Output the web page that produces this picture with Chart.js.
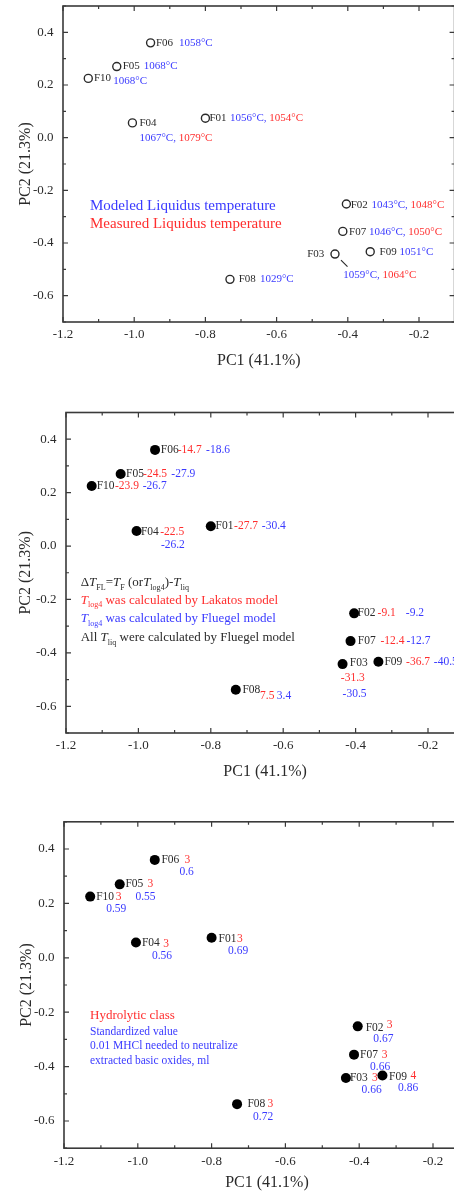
<html lang="en">
<head>
  <meta charset="UTF-8" />
  <title>PCA scores of glass samples</title>
  <script src="https://cdn.jsdelivr.net/npm/chart.js"></script>
  <style>
    body {
      margin: 0;
      background: #ffffff;
      width: 454px;
      height: 1193px;
      overflow: hidden;
      position: relative;
    }

    canvas {
      position: absolute;
      left: 0;
    }
  </style>
</head>
<body>
  <canvas id="chart-liquidus" width="480" height="400" style="top:0px"></canvas>
  <canvas id="chart-delta" width="480" height="400" style="top:400px"></canvas>
  <canvas id="chart-hydro" width="480" height="400" style="top:800px"></canvas>

  <script>
    // sample scores on the first two principal components
    const sampleIds = ['F01', 'F02', 'F03', 'F04', 'F05', 'F06', 'F07', 'F08', 'F09', 'F10'];
    const pc1Scores = [-0.800, -0.404, -0.436, -1.005, -1.049, -0.954, -0.414, -0.731, -0.337, -1.129];
    const pc2Scores = [0.074, -0.252, -0.442, 0.056, 0.270, 0.360, -0.356, -0.538, -0.433, 0.225];

    // liquidus temperature, degC (null = not measured)
    const liqModeled = [1056, 1043, 1059, 1067, 1068, 1058, 1046, 1029, 1051, 1068];
    const liqMeasured = [1054, 1048, 1064, 1079, null, null, 1050, null, null, null];

    // working range minus liquidus
    const dtLakatos = [-27.7, -9.1, -31.3, -22.5, -24.5, -14.7, -12.4, 7.5, -36.7, -23.9];
    const dtFluegel = [-30.4, -9.2, -30.5, -26.2, -27.9, -18.6, -12.7, 3.4, -40.5, -26.7];

    // hydrolytic resistance
    const hydroClass = [3, 3, 3, 3, 3, 3, 3, 3, 4, 3];
    const hclNeeded = [0.69, 0.67, 0.66, 0.56, 0.55, 0.6, 0.66, 0.72, 0.86, 0.59];

    const xTickValues = [-1.2, -1.0, -0.8, -0.6, -0.4, -0.2];
    const yTickValues = [-0.6, -0.4, -0.2, 0.0, 0.2, 0.4];
    const xRange = [-1.2, -0.1];
    const yRange = [-0.7, 0.5];

    const SERIF = '"Liberation Serif", "Times New Roman", serif';
    const INK = '#2a2a2a';
    const BLUE = '#3a3aff';
    const RED = '#ff2e2e';
    const AXIS = '#3a3a3a';

    // frame on all four sides with inward major/minor ticks
    const framePlugin = {
      id: 'frame',
      beforeDatasetsDraw(chart) {
        const { ctx, chartArea: a, scales: { x, y } } = chart;
        ctx.save();
        ctx.strokeStyle = AXIS;
        ctx.lineWidth = 1.6;
        ctx.strokeRect(a.left, a.top, a.right - a.left, a.bottom - a.top);
        ctx.lineWidth = 1.2;

        const withMinors = (majors, lo, hi) => {
          const step = majors[1] - majors[0];
          const out = majors.map(v => ({ v, len: 5 }));
          for (let v = majors[0] - step / 2; v <= hi + 1e-9; v += step) {
            if (v >= lo - 1e-9) out.push({ v, len: 3 });
          }
          return out;
        };

        ctx.beginPath();
        withMinors(xTickValues, xRange[0], xRange[1]).forEach(t => {
          const px = x.getPixelForValue(t.v);
          ctx.moveTo(px, a.bottom); ctx.lineTo(px, a.bottom - t.len);
          ctx.moveTo(px, a.top); ctx.lineTo(px, a.top + t.len);
        });
        withMinors(yTickValues, yRange[0], yRange[1]).forEach(t => {
          const py = y.getPixelForValue(t.v);
          ctx.moveTo(a.left, py); ctx.lineTo(a.left + t.len, py);
          ctx.moveTo(a.right, py); ctx.lineTo(a.right - t.len, py);
        });
        ctx.stroke();
        ctx.restore();
      }
    };

    // text pieces next to each point, plus the explanatory block
    const notesPlugin = {
      id: 'notes',
      afterDatasetsDraw(chart) {
        const cfg = chart.options.plugins.notes;
        const { ctx, chartArea: a } = chart;
        const pts = chart.getDatasetMeta(0).data;
        ctx.save();
        ctx.textBaseline = 'middle';
        ctx.font = cfg.size + 'px ' + SERIF;

        cfg.points.forEach((segs, i) => {
          const p = pts[i];
          let cursor = p.x;
          segs.forEach(s => {
            const sx = s.dx !== undefined ? p.x + s.dx : cursor;
            const sy = p.y + (s.dy || 0);
            ctx.fillStyle = s.color;
            ctx.textAlign = s.align || 'left';
            ctx.fillText(s.text, sx, sy);
            cursor = sx + ctx.measureText(s.text).width;
          });
        });

        (cfg.leaders || []).forEach(l => {
          const p = pts[l.index];
          ctx.strokeStyle = INK;
          ctx.lineWidth = 1.2;
          ctx.beginPath();
          ctx.moveTo(p.x + l.from[0], p.y + l.from[1]);
          ctx.lineTo(p.x + l.to[0], p.y + l.to[1]);
          ctx.stroke();
        });

        ctx.textBaseline = 'alphabetic';
        ctx.textAlign = 'left';
        (cfg.block || []).forEach(line => {
          let cx = a.left + line.dx;
          const base = a.top + line.dy + line.size * 0.33;
          line.parts.forEach(part => {
            const size = part.sub ? line.size * 0.62 : line.size;
            ctx.font = (part.it ? 'italic ' : '') + size + 'px ' + SERIF;
            ctx.fillStyle = line.color;
            ctx.fillText(part.t, cx, base + (part.sub ? line.size * 0.28 : 0));
            cx += ctx.measureText(part.t).width;
          });
        });
        ctx.restore();
      }
    };

    function makeChart(id, box, style, notes) {
      const canvas = document.getElementById(id);
      const W = canvas.width, H = canvas.height;
      const xAxisH = 50;
      return new Chart(canvas, {
        type: 'scatter',
        data: {
          datasets: [{
            data: pc1Scores.map((v, i) => ({ x: v, y: pc2Scores[i] })),
            pointRadius: style.radius,
            pointHoverRadius: style.radius,
            backgroundColor: style.fill,
            borderColor: INK,
            borderWidth: style.border
          }]
        },
        options: {
          responsive: false,
          animation: false,
          events: [],
          layout: {
            padding: { left: 0, top: box.top, right: W - box.right, bottom: H - box.bottom - xAxisH }
          },
          plugins: {
            legend: { display: false },
            tooltip: { enabled: false },
            notes: notes
          },
          scales: {
            x: {
              type: 'linear',
              min: xRange[0],
              max: xRange[1],
              afterBuildTicks: s => { s.ticks = xTickValues.map(v => ({ value: v })); },
              afterFit: s => { s.height = xAxisH; s.paddingLeft = 0; s.paddingRight = 0; },
              grid: { display: false, drawTicks: false },
              border: { display: false },
              ticks: {
                color: INK,
                padding: box.xLabelPad,
                font: { family: SERIF, size: 13 },
                callback: v => v.toFixed(1)
              },
              title: {
                display: true,
                text: 'PC1 (41.1%)',
                color: INK,
                font: { family: SERIF, size: 16 },
                padding: { top: 0, bottom: xAxisH - box.xTitleGap - 9.6 }
              }
            },
            y: {
              type: 'linear',
              min: yRange[0],
              max: yRange[1],
              afterBuildTicks: s => { s.ticks = yTickValues.map(v => ({ value: v })); },
              afterFit: s => { s.width = box.left; s.paddingTop = 0; s.paddingBottom = 0; },
              grid: { display: false, drawTicks: false },
              border: { display: false },
              ticks: {
                color: INK,
                padding: 9.5,
                font: { family: SERIF, size: 13 },
                callback: v => v.toFixed(1)
              },
              title: {
                display: true,
                text: 'PC2 (21.3%)',
                color: INK,
                font: { family: SERIF, size: 16 },
                padding: { top: box.yTitleX - 9.6, bottom: 0 }
              }
            }
          }
        },
        plugins: [framePlugin, notesPlugin]
      });
    }

    const idx = id => sampleIds.indexOf(id);

    // --- liquidus temperature panel ---
    const liqPlace = {
      F01: { name: [4, 0], val: [24.7, 0] },
      F02: { name: [4.3, 1.3], val: [25, 1.3] },
      F03: { name: [-10.7, 0], val: [8.3, 21], right: true },
      F04: { name: [7, 0], val: [7, 15.6] },
      F05: { name: [6, 0], val: [27, 0] },
      F06: { name: [5.3, 0], val: [28.3, 0] },
      F07: { name: [6.3, 0.5], val: [26.3, 0.5] },
      F08: { name: [8.7, 0], val: [30, 0] },
      F09: { name: [9.3, 0], val: [29.3, 0] },
      F10: { name: [5.7, 0], val: [25, 3] }
    };
    const liqNotes = sampleIds.map((id, i) => {
      const pl = liqPlace[id];
      const segs = [
        { text: id, color: INK, dx: pl.name[0], dy: pl.name[1], align: pl.right ? 'right' : 'left' },
        { text: liqModeled[i] + '\u00B0C' + (liqMeasured[i] !== null ? ', ' : ''), color: BLUE, dx: pl.val[0], dy: pl.val[1] }
      ];
      if (liqMeasured[i] !== null) segs.push({ text: liqMeasured[i] + '\u00B0C', color: RED, dy: pl.val[1] });
      return segs;
    });

    makeChart('chart-liquidus',
      { left: 63, top: 6, right: 454.6, bottom: 322, xLabelPad: 5.2, xTitleGap: 39, yTitleX: 26 },
      { radius: 4, fill: 'rgba(255,255,255,0)', border: 1.4 },
      {
        size: 11,
        points: liqNotes,
        leaders: [{ index: idx('F03'), from: [6, 6], to: [12.5, 12.5] }],
        block: [
          { dx: 27, dy: 198.7, size: 15, color: BLUE, parts: [{ t: 'Modeled Liquidus temperature' }] },
          { dx: 27, dy: 216.7, size: 15, color: RED, parts: [{ t: 'Measured Liquidus temperature' }] }
        ]
      });

    // --- temperature difference panel ---
    const dtPlace = {
      F01: { name: [4.7, 0], red: [23.3, 0], blue: [51, 0] },
      F02: { name: [3.4, 0], red: [23.4, 0], blue: [51.7, 0] },
      F03: { name: [7.3, -1], red: [-1.7, 14], blue: [0, 29.4] },
      F04: { name: [4.3, 1.3], red: [23.6, 0.5], blue: [24.3, 14.3] },
      F05: { name: [5.4, 0], red: [22.4, 0], blue: [50.7, 0] },
      F06: { name: [5.7, 0], red: [22.7, 0], blue: [51, 0] },
      F07: { name: [7.3, 0], red: [30, 0], blue: [56, 0] },
      F08: { name: [6.6, 0.7], red: [24.3, 6.7], blue: [41, 6.7] },
      F09: { name: [6, 0], red: [27.7, 0], blue: [55.4, 0] },
      F10: { name: [5, 0], red: [23.3, 0], blue: [51, 0] }
    };
    const dtNotes = sampleIds.map((id, i) => {
      const pl = dtPlace[id];
      return [
        { text: id, color: INK, dx: pl.name[0], dy: pl.name[1] },
        { text: String(dtLakatos[i]), color: RED, dx: pl.red[0], dy: pl.red[1] },
        { text: String(dtFluegel[i]), color: BLUE, dx: pl.blue[0], dy: pl.blue[1] }
      ];
    });

    makeChart('chart-delta',
      { left: 66, top: 12.5, right: 464.2, bottom: 333, xLabelPad: 4.9, xTitleGap: 39, yTitleX: 26 },
      { radius: 5, fill: '#000000', border: 0 },
      {
        size: 11.5,
        points: dtNotes,
        block: [
          { dx: 14.7, dy: 169.2, size: 13, color: INK, parts: [
            { t: '\u0394' }, { t: 'T', it: true }, { t: 'FL', sub: true }, { t: '=' },
            { t: 'T', it: true }, { t: 'F', sub: true }, { t: ' (or' }, { t: 'T', it: true },
            { t: 'log4', sub: true }, { t: ')-' }, { t: 'T', it: true }, { t: 'liq', sub: true }
          ] },
          { dx: 14.7, dy: 186.8, size: 13, color: RED, parts: [
            { t: 'T', it: true }, { t: 'log4', sub: true }, { t: ' was calculated by Lakatos model' }
          ] },
          { dx: 14.7, dy: 205.2, size: 13, color: BLUE, parts: [
            { t: 'T', it: true }, { t: 'log4', sub: true }, { t: ' was calculated by Fluegel model' }
          ] },
          { dx: 14.7, dy: 224.2, size: 13, color: INK, parts: [
            { t: 'All ' }, { t: 'T', it: true }, { t: 'liq', sub: true }, { t: ' were calculated by Fluegel model' }
          ] }
        ]
      });

    // --- hydrolytic class panel ---
    const hydroPlace = {
      F01: { name: [7, 1], red: [25.4, 1], blue: [16.4, 13] },
      F02: { name: [8, 1.3], red: [29, -1], blue: [15.6, 12.7] },
      F03: { name: [4, 0], red: [26, 0], blue: [15.7, 12] },
      F04: { name: [6, 0.3], red: [27.3, 1.3], blue: [16, 13] },
      F05: { name: [5.7, 0], red: [27.7, 0], blue: [15.7, 12.7] },
      F06: { name: [6.7, 0], red: [29.7, 0], blue: [24.7, 12.4] },
      F07: { name: [6, 0], red: [27.7, 0], blue: [16, 12.4] },
      F08: { name: [10.4, 0], red: [30.4, 0], blue: [16, 12.4] },
      F09: { name: [6.6, 1], red: [28, 0], blue: [15.6, 12.6] },
      F10: { name: [6, 0], red: [25.6, 0], blue: [16, 12.6] }
    };
    const hydroNotes = sampleIds.map((id, i) => {
      const pl = hydroPlace[id];
      return [
        { text: id, color: INK, dx: pl.name[0], dy: pl.name[1] },
        { text: String(hydroClass[i]), color: RED, dx: pl.red[0], dy: pl.red[1] },
        { text: String(hclNeeded[i]), color: BLUE, dx: pl.blue[0], dy: pl.blue[1] }
      ];
    });

    makeChart('chart-hydro',
      { left: 64, top: 21.8, right: 469.9, bottom: 348.2, xLabelPad: 5.9, xTitleGap: 35, yTitleX: 27 },
      { radius: 5, fill: '#000000', border: 0 },
      {
        size: 11.5,
        points: hydroNotes,
        block: [
          { dx: 26, dy: 193.2, size: 13, color: RED, parts: [{ t: 'Hydrolytic class' }] },
          { dx: 26, dy: 209.9, size: 11.5, color: BLUE, parts: [{ t: 'Standardized value' }] },
          { dx: 26, dy: 223.9, size: 11.5, color: BLUE, parts: [{ t: '0.01 MHCl needed to neutralize' }] },
          { dx: 26, dy: 238.9, size: 11.5, color: BLUE, parts: [{ t: 'extracted basic oxides, ml' }] }
        ]
      });
  </script>
</body>
</html>
